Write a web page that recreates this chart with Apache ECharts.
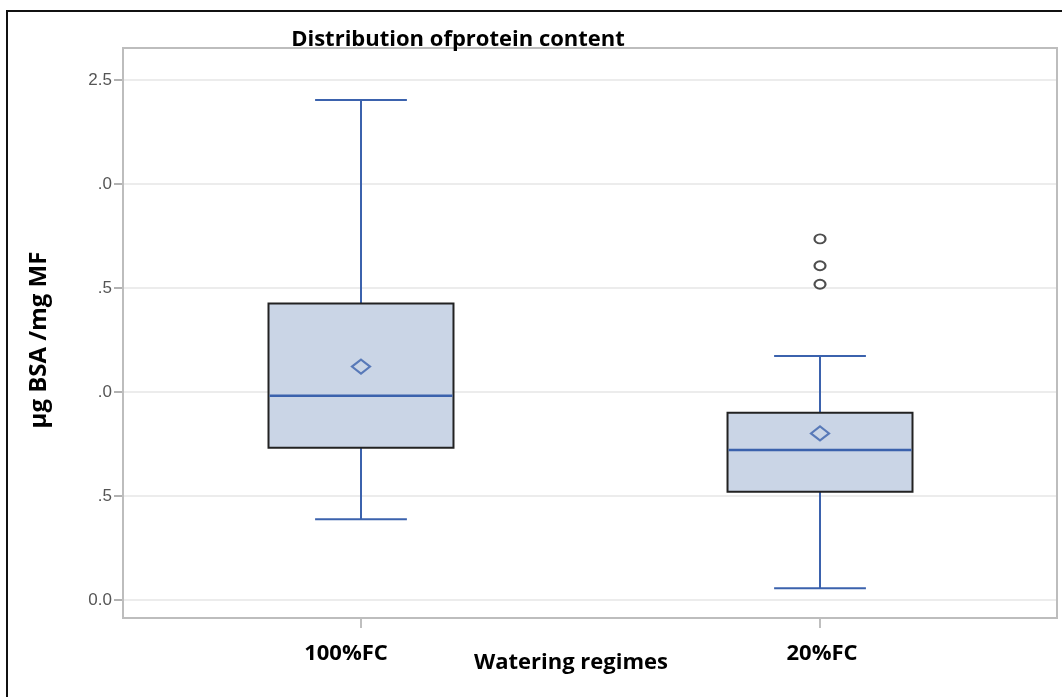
<!DOCTYPE html>
<html>
<head>
<meta charset="utf-8">
<script src="https://cdn.jsdelivr.net/npm/echarts@6/dist/echarts.min.js"></script>
<style>
html,body{margin:0;padding:0;background:#fff;}
#chart{width:1062px;height:697px;}
</style>
</head>
<body>
<div id="chart"></div>
<script>
// ---- data ----
const categories = ['100%FC', '20%FC'];
const whiskerLow = [0.388, 0.056];
const q1 = [0.732, 0.521];
const median = [0.982, 0.721];
const q3 = [1.426, 0.900];
const whiskerHigh = [2.404, 1.173];
const means = [1.122, 0.801];
const outlierCategory = ['20%FC', '20%FC', '20%FC'];
const outlierValues = [1.736, 1.607, 1.518];
const yTickValues = [0, 0.5, 1.0, 1.5, 2.0, 2.5];
const yTickLabels = ['0.0', '.5', '.0', '.5', '.0', '2.5'];

// ---- build ----
const boxData = categories.map((c, i) => [i, whiskerLow[i], q1[i], median[i], q3[i], whiskerHigh[i]]);
const meanData = categories.map((c, i) => [i, means[i]]);
const outlierData = outlierCategory.map((c, k) => [categories.indexOf(c), outlierValues[k]]);

const BLUE = '#3b62ad';
const BOX_W = 0.403, CAP_W = 0.2;
const FONT = 'Open Sans';
const labelStyle = {fontFamily: FONT, fontWeight: 'bold', fontSize: 22, color: '#000'};

const chart = echarts.init(document.getElementById('chart'), null, {renderer: 'canvas'});

const option = {
  animation: false,
  backgroundColor: '#fff',
  title: {
    text: 'Distribution ofprotein content',
    left: 453, top: 24, textAlign: 'center', z: 20,
    textStyle: {fontFamily: FONT, fontWeight: 'bold', fontSize: 22, color: '#000'}
  },
  graphic: [
    {type: 'polyline', shape: {points: [[7, 697], [7, 11], [1062, 11]]},
     style: {stroke: '#111', lineWidth: 2, fill: null}, z: 2},
    {type: 'rect', shape: {x: 123, y: 48, width: 934, height: 570},
     style: {stroke: '#bdbdbd', lineWidth: 2, fill: null}, z: 2}
  ],
  grid: {left: 123, right: 5, top: 80, bottom: 97},
  xAxis: {
    type: 'value', min: -0.5185, max: 1.5163, offset: 18,
    splitLine: {show: false},
    axisLine: {show: false, onZero: false},
    axisTick: {show: true, customValues: [0, 1], length: 10, lineStyle: {color: '#aaa', width: 1.5}},
    axisLabel: {
      customValues: [0, 1], margin: 25,
      formatter: v => { const i = Math.round(v); return categories[i] ? '{c' + i + '|' + categories[i] + '}' : ''; },
      rich: {
        c0: Object.assign({padding: [0, 30, 0, 0]}, labelStyle),
        c1: Object.assign({padding: [0, 0, 0, 4]}, labelStyle)
      },
      ...labelStyle
    },
    name: 'Watering regimes', nameLocation: 'middle', nameGap: 34, nameMoveOverlap: false,
    nameTextStyle: {fontFamily: FONT, fontWeight: 'bold', fontSize: 22, color: '#000', padding: [0, 38, 0, 0]}
  },
  yAxis: {
    type: 'value', min: 0, max: 2.5, interval: 0.5,
    axisLine: {show: false, onZero: false},
    axisTick: {show: true, length: 9, lineStyle: {color: '#999', width: 1.5}},
    axisLabel: {
      margin: 11, fontFamily: 'Liberation Sans', fontSize: 17, color: '#555',
      formatter: v => { const i = yTickValues.findIndex(t => Math.abs(t - v) < 1e-6); return i >= 0 ? yTickLabels[i] : ''; }
    },
    splitLine: {show: true, lineStyle: {color: '#e6e6e6', width: 1.5}},
    name: 'µg BSA /mg MF', nameLocation: 'middle', nameGap: 72, nameMoveOverlap: false,
    nameTextStyle: {fontFamily: FONT, fontWeight: 'bold', fontSize: 24, color: '#000'}
  },
  series: [
    {
      type: 'custom',
      data: boxData,
      encode: {x: 0, y: [1, 2, 3, 4, 5]},
      renderItem: function (params, api) {
        const x = api.value(0);
        const pLow = api.coord([x, api.value(1)]);
        const pQ1 = api.coord([x, api.value(2)]);
        const pMed = api.coord([x, api.value(3)]);
        const pQ3 = api.coord([x, api.value(4)]);
        const pHigh = api.coord([x, api.value(5)]);
        const bw = api.size([BOX_W, 0])[0];
        const cw = api.size([CAP_W, 0])[0];
        const cx = pMed[0];
        const ws = {stroke: BLUE, lineWidth: 2};
        return {
          type: 'group',
          children: [
            {type: 'line', shape: {x1: cx, y1: pQ3[1], x2: cx, y2: pHigh[1]}, style: ws},
            {type: 'line', shape: {x1: cx, y1: pQ1[1], x2: cx, y2: pLow[1]}, style: ws},
            {type: 'line', shape: {x1: cx - cw / 2, y1: pHigh[1], x2: cx + cw / 2, y2: pHigh[1]}, style: ws},
            {type: 'line', shape: {x1: cx - cw / 2, y1: pLow[1], x2: cx + cw / 2, y2: pLow[1]}, style: ws},
            {type: 'rect', shape: {x: cx - bw / 2, y: pQ3[1], width: bw, height: pQ1[1] - pQ3[1]},
             style: {fill: '#cad5e6', stroke: '#222', lineWidth: 2}},
            {type: 'line', shape: {x1: cx - bw / 2 + 1, y1: pMed[1], x2: cx + bw / 2 - 1, y2: pMed[1]},
             style: {stroke: BLUE, lineWidth: 2.5}}
          ]
        };
      },
      z: 3
    },
    {
      type: 'scatter', data: meanData, symbol: 'diamond', symbolSize: [18, 14],
      itemStyle: {color: 'rgba(0,0,0,0)', borderColor: BLUE, borderWidth: 2.2}, z: 5
    },
    {
      type: 'scatter', data: outlierData, symbol: 'circle', symbolSize: [11, 9],
      itemStyle: {color: 'rgba(0,0,0,0)', borderColor: '#222', borderWidth: 2}, z: 5
    }
  ]
};
chart.setOption(option);
</script>
</body>
</html>
